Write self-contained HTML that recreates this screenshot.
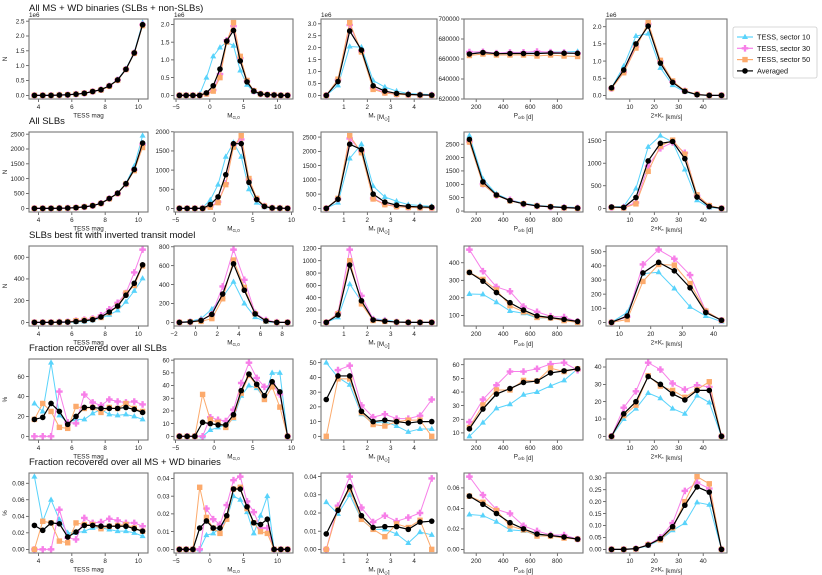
<!DOCTYPE html>
<html><head><meta charset="utf-8"><style>
html,body{margin:0;padding:0;background:#fff;}
svg{display:block;font-family:"Liberation Sans",sans-serif;}
</style></head><body>
<svg id="fig" width="822" height="575" viewBox="0 0 822 575"></svg>
<script>
// ---- x categories ----
const xMag = [3.75,4.25,4.75,5.25,5.75,6.25,6.75,7.25,7.75,8.25,8.75,9.25,9.75,10.25];
const xMg17 = [-4.5,-3.5,-2.5,-1.5,-0.5,0.5,1.5,2.5,3.5,4.5,5.5,6.5,7.5,8.5,9.5,10.5,11.5];
const xMg15 = [-4.5,-3.5,-2.5,-1.5,-0.5,0.5,1.5,2.5,3.5,4.5,5.5,6.5,7.5,8.5,9.5];
const xMg11 = [-1.5,-0.5,0.5,1.5,2.5,3.5,4.5,5.5,6.5,7.5,8.5];
const xMs = [0.25,0.75,1.25,1.75,2.25,2.75,3.25,3.75,4.25,4.75];
const xP = [150,250,350,450,550,650,750,850,950];
const xK10 = [2.5,7.5,12.5,17.5,22.5,27.5,32.5,37.5,42.5,47.5];
const xK8 = [7.5,12.5,17.5,22.5,27.5,32.5,37.5,42.5];

// ---- row 1 (1e6 units) ----
const r1c1_s10=[0,0,0,0.01,0.02,0.04,0.07,0.13,0.19,0.32,0.53,0.9,1.45,2.45];
const r1c1_s30=[0,0,0,0.01,0.02,0.04,0.07,0.13,0.19,0.32,0.52,0.88,1.43,2.38];
const r1c1_s50=[0,0,0,0.01,0.02,0.04,0.07,0.13,0.18,0.31,0.51,0.87,1.42,2.35];
const r1c1_avg=[0,0,0,0.01,0.02,0.04,0.07,0.13,0.19,0.32,0.52,0.88,1.43,2.38];
const r1c2_s10=[0,0,0,0.03,0.5,1.1,1.35,1.5,1.4,0.7,0.3,0.1,0.03,0.01,0,0,0];
const r1c2_s30=[0,0,0,0,0.05,0.15,0.6,1.55,1.95,1.05,0.4,0.12,0.04,0.02,0.01,0,0];
const r1c2_s50=[0,0,0,0,0.04,0.12,0.5,1.5,2.05,1.1,0.42,0.13,0.04,0.02,0.01,0,0];
const r1c2_avg=[0,0,0,0,0.07,0.27,0.74,1.53,1.83,0.97,0.38,0.12,0.04,0.02,0.01,0,0];
const r1c3_s10=[0,0.42,2.05,2.02,0.62,0.35,0.18,0.08,0.05,0.03];
const r1c3_s30=[0,0.65,2.95,1.85,0.3,0.12,0.05,0.03,0.01,0.01];
const r1c3_s50=[0,0.68,3.05,1.82,0.25,0.1,0.04,0.02,0.01,0];
const r1c3_avg=[0,0.58,2.7,1.9,0.4,0.18,0.08,0.04,0.02,0.01];
const r1c4_s10=[667000,667000,665800,666500,666500,667000,667000,667000,667500];
const r1c4_s30=[667000,667200,665800,666600,666700,667500,666800,666500,665500];
const r1c4_s50=[663500,665000,664000,664000,664000,663000,664000,663000,662500];
const r1c4_avg=[665000,666500,665300,665500,665500,665500,666000,665800,665700];
const r1c5_s10=[0.22,0.85,1.73,1.8,0.8,0.3,0.1,0.02,0,0];
const r1c5_s30=[0.2,0.68,1.42,2.08,1.0,0.4,0.13,0.03,0,0];
const r1c5_s50=[0.2,0.66,1.38,2.12,1.02,0.42,0.13,0.03,0,0];
const r1c5_avg=[0.22,0.74,1.5,2.02,0.94,0.38,0.12,0.02,0,0];
// ---- row 2 ----
const r2c1_s10=[0,0,0,5,10,25,50,90,170,330,510,840,1420,2450];
const r2c1_s30=[0,0,0,5,10,25,50,90,170,330,500,820,1300,2150];
const r2c1_s50=[0,0,0,5,10,25,50,90,165,325,500,820,1270,2050];
const r2c1_avg=[0,0,0,5,10,25,50,90,170,330,510,830,1310,2200];
const r2c2_s10=[0,0,0,20,220,620,1350,1720,1350,500,150,30,5,0,0];
const r2c2_s30=[0,0,0,0,50,170,650,1650,1800,750,250,60,10,5,0];
const r2c2_s50=[0,0,0,0,30,150,620,1600,1900,780,260,60,10,5,0];
const r2c2_avg=[0,0,0,0,100,300,880,1690,1690,680,230,50,10,5,0];
const r2c3_s10=[0,200,1750,2250,780,400,250,130,100,70];
const r2c3_s30=[0,330,2450,2000,350,150,70,40,30,20];
const r2c3_s50=[0,350,2550,1950,330,130,60,30,20,15];
const r2c3_avg=[0,320,2250,2060,500,220,110,70,50,40];
const r2c4_s10=[2820,1200,640,420,290,210,170,150,130];
const r2c4_s30=[2600,1010,580,420,260,190,150,130,110];
const r2c4_s50=[2580,1000,590,380,270,190,160,120,100];
const r2c4_avg=[2680,1090,600,390,270,190,160,130,110];
const r2c5_s10=[30,40,440,1360,1610,1470,860,180,20,0];
const r2c5_s30=[20,20,130,940,1330,1460,1230,280,50,0];
const r2c5_s50=[20,10,100,820,1380,1510,1200,300,60,0];
const r2c5_avg=[30,20,240,1050,1440,1480,1100,250,40,0];
// ---- row 3 ----
const r3c1_s10=[0,0,0,0,0,3,8,20,40,70,110,190,290,405];
const r3c1_s30=[0,0,0,3,5,15,25,35,65,120,180,270,460,670];
const r3c1_s50=[0,0,0,2,5,15,20,30,45,90,150,270,340,520];
const r3c1_avg=[0,0,0,2,3,8,15,25,50,95,150,250,360,530];
const r3c2_s10=[0,10,40,140,270,430,200,55,5,0,0];
const r3c2_s30=[0,5,20,85,380,770,450,100,25,2,0];
const r3c2_s50=[0,5,10,40,250,660,370,90,15,0,0];
const r3c2_avg=[0,5,20,85,300,620,340,90,15,0,0];
const r3c3_s10=[0,80,620,340,60,40,10,5,0,0];
const r3c3_s30=[0,150,1180,430,50,25,5,0,0,0];
const r3c3_s50=[0,140,1000,300,30,15,5,0,0,0];
const r3c3_avg=[0,120,930,350,40,20,5,0,0,0];
const r3c4_s10=[222,220,175,125,112,85,85,72,62];
const r3c4_s30=[475,352,262,237,150,120,95,90,65];
const r3c4_s50=[345,305,245,155,120,88,85,70,60];
const r3c4_avg=[345,295,230,172,130,97,87,77,65];
const r3c5_s10=[0,70,345,355,240,110,45,5];
const r3c5_s30=[0,40,410,515,450,335,80,15];
const r3c5_s50=[0,20,290,410,405,275,80,15];
const r3c5_avg=[0,45,350,425,365,245,70,15];
// ---- row 4 ----
const r4c1_s10=[33,25,74,21,14,17,17,23,27,22,21,22,20,17];
const r4c1_s30=[0,0,0,45,14,13,42,34,31,37,35,34,35,32];
const r4c1_s50=[17,33,25,9,8,30,28,29,24,29,28,33,28,25];
const r4c1_avg=[17,19,33,25,12,20,29,29,28,28,28,29,27,24];
const r4c2_s10=[0,0,0,0,5,7,9,14,32,40,38,30,50,50,0];
const r4c2_s30=[0,0,0,0,15,13,12,21,42,58,46,39,41,33,0];
const r4c2_s50=[0,0,0,33,13,11,7,15,34,48,40,29,39,23,0];
const r4c2_avg=[0,0,0,11,10,9,9,17,36,49,41,32,43,35,0];
const r4c3_s10=[50,40,35,15,9,10,7,3,5,5];
const r4c3_s30=[null,45,48,21,13,15,12,12,14,25];
const r4c3_s50=[0,39,39,16,8,7,10,11,11,0];
const r4c3_avg=[25,41,41,17,10,11,10,9,10,10];
const r4c4_s10=[7.5,17.5,28,31,38,40,44.5,48.5,57];
const r4c4_s30=[18,34.5,45,55,55,57,60.5,61.5,56];
const r4c4_s50=[14,30.5,41.5,41.5,48.5,48,57.5,55,57];
const r4c4_avg=[13,27.5,38.5,42.5,47,48,54,55.5,57];
const r4c5_s10=[0,10,16,25,22,16,13,23.5,19.5,0];
const r4c5_s30=[0,16.5,26,42.5,38.5,30.5,27,29.5,28.5,0];
const r4c5_s50=[0,12,18,35,29,26.5,22.5,27,31.5,0];
const r4c5_avg=[0,13,20,34.5,30,24.5,21,26.5,26.5,0];
// ---- row 5 ----
const r5c1_s10=[.088,.034,.060,.036,.020,.020,.022,.026,.026,.024,.022,.022,.020,.016];
const r5c1_s30=[0,0,0,.048,.014,.012,.038,.032,.033,.037,.035,.032,.032,.028];
const r5c1_s50=[0,.034,.032,.010,.008,.032,.030,.030,.025,.028,.029,.030,.026,.022];
const r5c1_avg=[.029,.023,.032,.031,.015,.021,.029,.029,.028,.028,.028,.028,.025,.022];
const r5c2_s10=[0,0,0,0,.008,.009,.012,.017,.030,.028,.021,.009,.019,.030,0,0,0];
const r5c2_s30=[0,0,0,0,.023,.017,.014,.025,.039,.041,.027,.021,.012,.012,0,0,0];
const r5c2_s50=[0,0,0,.035,.018,.012,.009,.017,.034,.035,.023,.015,.010,.009,0,0,0];
const r5c2_avg=[0,0,0,.012,.016,.012,.012,.019,.034,.034,.024,.015,.014,.017,0,0,0];
const r5c3_s10=[.026,.0195,.030,.0165,.011,.011,.0085,.0035,.0095,.008];
const r5c3_s30=[0,.024,.040,.023,.015,.0185,.0155,.0175,.020,.039];
const r5c3_s50=[0,.022,.033,.0165,.011,.007,.014,.012,.016,0];
const r5c3_avg=[.0085,.0215,.0345,.0185,.012,.0125,.0125,.011,.015,.0155];
const r5c4_s10=[.034,.033,.027,.019,.018,.014,.014,.012,.010];
const r5c4_s30=[.071,.053,.039,.035,.023,.018,.014,.014,.010];
const r5c4_s50=[.052,.046,.038,.023,.019,.013,.013,.011,.010];
const r5c4_avg=[.052,.044,.035,.026,.020,.015,.0135,.012,.010];
const r5c5_s10=[0,0,.003,.015,.04,.08,.11,.197,.187,0];
const r5c5_s30=[0,0,.003,.02,.05,.11,.245,.28,.255,0];
const r5c5_s50=[0,0,.002,.02,.04,.09,.2,.305,.275,0];
const r5c5_avg=[0,0,.003,.018,.045,.095,.185,.262,.24,0];

// ---- titles / ticks ----
const rowTitles=["All MS + WD binaries (SLBs + non-SLBs)","All SLBs","SLBs best fit with inverted transit model","Fraction recovered over all SLBs","Fraction recovered over all MS + WD binaries"];
const rowYLabels=["N","N","N","%","%"];
const seriesNames=["TESS, sector 10","TESS, sector 30","TESS, sector 50","Averaged"];
const yT_r1=[[0,0.5,1,1.5,2,2.5],[0,0.5,1,1.5,2],[0,0.5,1,1.5,2,2.5,3],[620000,640000,660000,680000,700000],[0,0.5,1,1.5,2]];
const yT_r2=[[0,500,1000,1500,2000,2500],[0,500,1000,1500,2000],[0,500,1000,1500,2000,2500],[0,500,1000,1500,2000,2500],[0,500,1000,1500]];
const yT_r3=[[0,200,400,600],[0,200,400,600,800],[0,200,400,600,800,1000,1200],[100,200,300,400],[0,100,200,300,400,500]];
const yT_r4=[[0,20,40,60],[0,10,20,30,40,50,60],[0,10,20,30,40,50],[10,20,30,40,50,60],[0,10,20,30,40]];
const yT_r5=[[0,.02,.04,.06,.08],[0,.01,.02,.03,.04],[0,.01,.02,.03,.04],[0,.02,.04,.06],[0,.05,.10,.15,.20,.25,.30]];
const xT_mag=[4,6,8,10], xT_mg=[-5,0,5,10], xT_mg3=[-2,0,2,4,6,8], xT_ms=[1,2,3,4], xT_p=[200,400,600,800], xT_k=[10,20,30,40];

const colsPx=[[29,148],[174,293],[321,437],[464,583],[606,727]];
const rowsPx=[[19,99],[132,212],[246,326],[359,440],[473,553]];
const COLORS=["#58d3fb","#f77fe8","#fcaa6c","#000000"];
const NS="http://www.w3.org/2000/svg";
const svg=document.getElementById('fig');
function el(tag,attrs,parent){const e=document.createElementNS(NS,tag);for(const k in attrs)e.setAttribute(k,attrs[k]);(parent||svg).appendChild(e);return e;}

const xlabHTML=[
 [["TESS mag",null]],
 [["M",null],["G,0","sub"]],
 [["M",null],["*","sub"],[" [M",null],["⊙","sub"],["]",null]],
 [["P",null],["orb","sub"],[" [d]",null]],
 [["2×K",null],["*","sub"],[" [km/s]",null]]];

const P=[
 [[xMag,r1c1_s10,r1c1_s30,r1c1_s50,r1c1_avg,xT_mag],[xMg17,r1c2_s10,r1c2_s30,r1c2_s50,r1c2_avg,xT_mg],[xMs,r1c3_s10,r1c3_s30,r1c3_s50,r1c3_avg,xT_ms],[xP,r1c4_s10,r1c4_s30,r1c4_s50,r1c4_avg,xT_p],[xK10,r1c5_s10,r1c5_s30,r1c5_s50,r1c5_avg,xT_k]],
 [[xMag,r2c1_s10,r2c1_s30,r2c1_s50,r2c1_avg,xT_mag],[xMg15,r2c2_s10,r2c2_s30,r2c2_s50,r2c2_avg,xT_mg],[xMs,r2c3_s10,r2c3_s30,r2c3_s50,r2c3_avg,xT_ms],[xP,r2c4_s10,r2c4_s30,r2c4_s50,r2c4_avg,xT_p],[xK10,r2c5_s10,r2c5_s30,r2c5_s50,r2c5_avg,xT_k]],
 [[xMag,r3c1_s10,r3c1_s30,r3c1_s50,r3c1_avg,xT_mag],[xMg11,r3c2_s10,r3c2_s30,r3c2_s50,r3c2_avg,xT_mg3],[xMs,r3c3_s10,r3c3_s30,r3c3_s50,r3c3_avg,xT_ms],[xP,r3c4_s10,r3c4_s30,r3c4_s50,r3c4_avg,xT_p],[xK8,r3c5_s10,r3c5_s30,r3c5_s50,r3c5_avg,xT_k]],
 [[xMag,r4c1_s10,r4c1_s30,r4c1_s50,r4c1_avg,xT_mag],[xMg15,r4c2_s10,r4c2_s30,r4c2_s50,r4c2_avg,xT_mg],[xMs,r4c3_s10,r4c3_s30,r4c3_s50,r4c3_avg,xT_ms],[xP,r4c4_s10,r4c4_s30,r4c4_s50,r4c4_avg,xT_p],[xK10,r4c5_s10,r4c5_s30,r4c5_s50,r4c5_avg,xT_k]],
 [[xMag,r5c1_s10,r5c1_s30,r5c1_s50,r5c1_avg,xT_mag],[xMg17,r5c2_s10,r5c2_s30,r5c2_s50,r5c2_avg,xT_mg],[xMs,r5c3_s10,r5c3_s30,r5c3_s50,r5c3_avg,xT_ms],[xP,r5c4_s10,r5c4_s30,r5c4_s50,r5c4_avg,xT_p],[xK10,r5c5_s10,r5c5_s30,r5c5_s50,r5c5_avg,xT_k]]];
const YT=[yT_r1,yT_r2,yT_r3,yT_r4,yT_r5];

function fmt(v,step){let d=step>=1?0:Math.max(0,Math.ceil(-Math.log10(step)-1e-9));if(step<1&&Math.abs(step*Math.pow(10,d)-Math.round(step*Math.pow(10,d)))>1e-6)d++;return v.toFixed(d);}

function marker(g,type,cx,cy,color){
  let m;
  if(type===0){m=el('polygon',{points:`${cx},${cy-3.3} ${cx-3},${cy+2} ${cx+3},${cy+2}`,fill:color},g);}
  else if(type===1){const a=1.2,b=3.3;m=el('polygon',{points:`${cx-a},${cy-b} ${cx+a},${cy-b} ${cx+a},${cy-a} ${cx+b},${cy-a} ${cx+b},${cy+a} ${cx+a},${cy+a} ${cx+a},${cy+b} ${cx-a},${cy+b} ${cx-a},${cy+a} ${cx-b},${cy+a} ${cx-b},${cy-a} ${cx-a},${cy-a}`,fill:color},g);}
  else if(type===2){m=el('rect',{x:cx-2.7,y:cy-2.7,width:5.4,height:5.4,fill:color},g);}
  else {m=el('circle',{cx:cx,cy:cy,r:2.8,fill:color},g);}
  return m;
}

for(let r=0;r<5;r++){
  const t=el('text',{x:29,y:rowsPx[r][0]-8,'font-size':'9.5',fill:'#111'});
  t.textContent=rowTitles[r];
  
  
  for(let c=0;c<5;c++){
    const [xs,s10,s30,s50,avg,xt]=P[r][c];
    const yt=YT[r][c];
    const series=[s10,s30,s50,avg];
    const [L,R]=colsPx[c],[T,B]=rowsPx[r];
    const g=el('g',{});
    
    
    const xmin=Math.min(...xs),xmax=Math.max(...xs),xm=(xmax-xmin)*0.05;
    const X0=xmin-xm,X1=xmax+xm;
    let Y0,Y1;
    if(r===0&&c===3){Y0=620000;Y1=700000;}
    else{const all=series.flat().filter(v=>v!==null);let mn=Math.min(...all);const mx=Math.max(...all);
      if(r===4&&c===3)mn=0;
      const ym=(mx-mn)*0.05;Y0=mn-ym;Y1=mx+ym;}
    const sx=v=>L+(v-X0)/(X1-X0)*(R-L);
    const sy=v=>B-(v-Y0)/(Y1-Y0)*(B-T);
    const ystep=yt.length>1?yt[1]-yt[0]:1;
    yt.forEach(v=>{const y=sy(v);if(y<T-0.5||y>B+0.5)return;
      el('line',{x1:L-3,x2:L,y1:y,y2:y,stroke:'#333','stroke-width':0.7},g);
      const tt=el('text',{x:L-4.5,y:y+2.2,'font-size':'6.3','text-anchor':'end',fill:'#222'},g);
      tt.textContent=(r===0&&c===3)?String(v):fmt(v,ystep);
      
      });
    xt.forEach(v=>{const x=sx(v);if(x<L-0.5||x>R+0.5)return;
      el('line',{x1:x,x2:x,y1:B,y2:B+3,stroke:'#333','stroke-width':0.7},g);
      const tt=el('text',{x:x,y:B+10,'font-size':'6.3','text-anchor':'middle',fill:'#222'},g);
      tt.textContent=v<0?'−'+Math.abs(v):String(v);
      
      });
    const xl=el('text',{x:(L+R)/2,y:B+18.5,'font-size':'6.3','text-anchor':'middle',fill:'#222'},g);
    
    
    xlabHTML[c].forEach(([s,k])=>{const sp=el('tspan',k?{'font-size':'4.5',dy:'1.5'}:{dy:'0'},xl);
      sp.textContent=s; if(k){const rs=el('tspan',{dy:'-1.5','font-size':'6.3'},xl);rs.textContent='';}});
    if(c===0){const yl=el('text',{x:L-22,y:(T+B)/2,'font-size':'6.3','text-anchor':'middle',fill:'#222',transform:`rotate(-90 ${L-22} ${(T+B)/2})`},g);
      yl.textContent=rowYLabels[r];
      
      }
    if(r===0&&c!==3){const m=el('text',{x:L,y:T-2,'font-size':'6.3',fill:'#222'},g);m.textContent='1e6';
      
      }
    series.forEach((s,k)=>{
      const sg=el('g',{},g);
      
      
      let d='',pen=false;
      s.forEach((v,i)=>{if(v===null){pen=false;return;}d+=(pen?'L':'M')+sx(xs[i]).toFixed(2)+','+sy(v).toFixed(2);pen=true;});
      el('path',{d:d,fill:'none',stroke:COLORS[k],'stroke-width':k===3?1.2:1},sg);
      s.forEach((v,i)=>{if(v===null)return;const m=marker(sg,k,sx(xs[i]),sy(v),COLORS[k]);
        
        });
    });
    el('rect',{x:L,y:T,width:R-L,height:B-T,fill:'none',stroke:'#777','stroke-width':1.1},g);
  }
}
const lg=el('g',{});


el('rect',{x:733,y:27,width:84,height:51,rx:2,fill:'#fff',stroke:'#ccc','stroke-width':0.8},lg);
seriesNames.forEach((n,k)=>{const y=37+k*11.3;
  const eg=el('g',{},lg);
  
  
  el('line',{x1:737,x2:753,y1:y,y2:y,stroke:COLORS[k],'stroke-width':1.2},eg);
  marker(eg,k,745,y,COLORS[k]);
  const t=el('text',{x:757,y:y+2.6,'font-size':'7.3',fill:'#111'},eg);t.textContent=n;});
</script>
</body></html>
